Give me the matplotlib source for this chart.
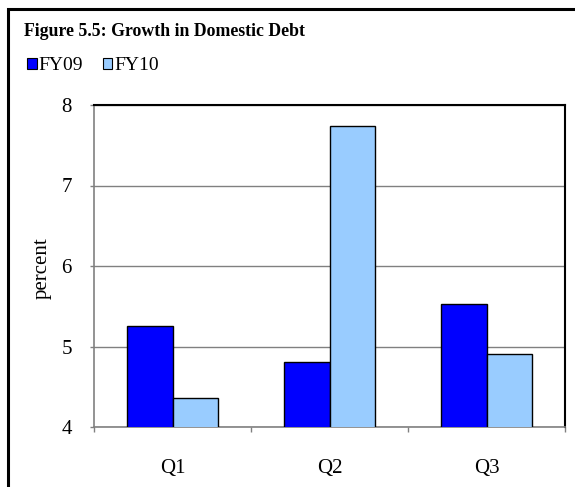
import matplotlib
matplotlib.use("Agg")
import matplotlib.pyplot as plt
import numpy as np
from matplotlib.patches import Rectangle

categories = ["Q1", "Q2", "Q3"]
fy09 = [5.25, 4.81, 5.53]
fy10 = [4.36, 7.74, 4.91]
series_labels = ["FY09", "FY10"]
yticks = [4, 5, 6, 7, 8]

W, H = 575, 487
plt.rcParams['font.family'] = ['Liberation Serif', 'DejaVu Serif']
fig = plt.figure(figsize=(W / 100, H / 100), dpi=100)

# outer frame
fig.patches.append(Rectangle((8 / W, -0.05), 1.2, (H - 9) / H + 0.05, transform=fig.transFigure,
                             fill=False, edgecolor='black', linewidth=2.2, clip_on=False))

ax = fig.add_axes([94 / W, (H - 427) / H, (565 - 94) / W, (427 - 105) / H])
x = np.arange(len(categories))
w = 0.291
ax.bar(x - w / 2, fy09, w, color='#0000FF', edgecolor='black', linewidth=1.0, zorder=3)
ax.bar(x + w / 2, fy10, w, color='#99CCFF', edgecolor='black', linewidth=1.0, zorder=3)

ax.set_ylim(4, 8)
ax.set_xlim(-0.5, 2.5)
ax.set_yticks(yticks)
ax.set_yticklabels([str(v) for v in yticks], fontsize=15)
ax.yaxis.grid(True, color='#808080', linewidth=1.0, zorder=0)
ax.set_axisbelow(True)

ax.set_xticks(x)
ax.set_xticklabels(categories, fontsize=15)
ax.tick_params(axis='x', length=0, pad=23)
ax.set_xticks([-0.5, 0.5, 1.5, 2.5], minor=True)
ax.tick_params(axis='x', which='minor', length=3.5, color='#808080', width=1)
ax.tick_params(axis='y', length=3, color='#808080', width=1, pad=13)

for s in ['left', 'bottom']:
    ax.spines[s].set_color('#808080')
    ax.spines[s].set_linewidth(1.2)
for s in ['top', 'right']:
    ax.spines[s].set_color('black')
    ax.spines[s].set_linewidth(1.5)

ax.set_ylabel('percent', fontsize=15)
ax.yaxis.label.set_va('center')
ax.yaxis.set_label_coords((42 - 94) / 471, (427 - 268) / 322)

fig.text(24 / W, 1 - 32 / H, 'Figure 5.5: Growth in Domestic Debt', fontsize=12.8,
         fontweight='bold', va='center', ha='left')

# legend
handles = [Rectangle((0, 0), 1, 1, facecolor='#0000FF', edgecolor='black', linewidth=0.8),
           Rectangle((0, 0), 1, 1, facecolor='#99CCFF', edgecolor='black', linewidth=0.8)]
fig.legend(handles, series_labels, loc='center left', bbox_to_anchor=(27 / W, 1 - 66 / H),
           ncol=2, frameon=False, fontsize=14, handlelength=0.5, handleheight=0.5,
           handletextpad=0.1, columnspacing=1.0, borderpad=0, borderaxespad=0)

fig.savefig('out.png', dpi=100)
